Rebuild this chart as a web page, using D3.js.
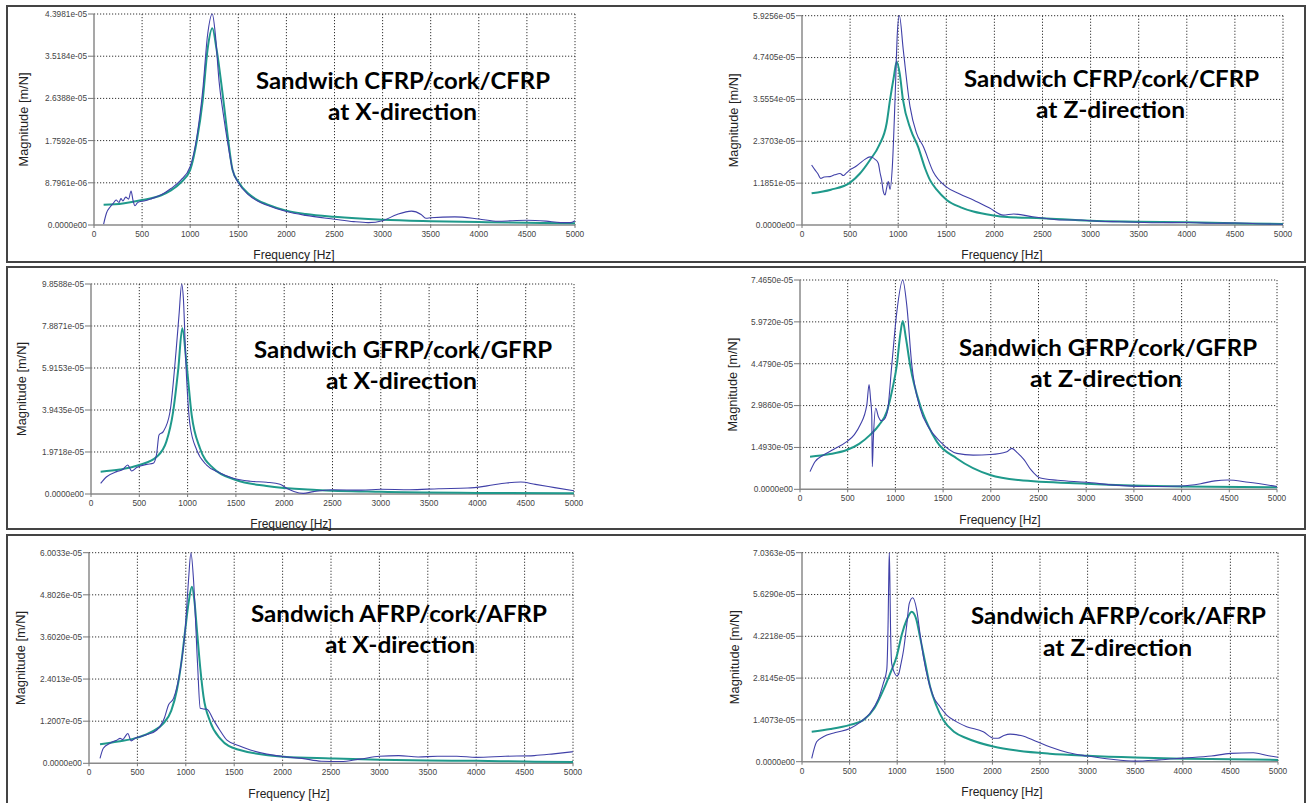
<!DOCTYPE html>
<html lang="en">
<head>
<meta charset="utf-8">
<title>FRF - sandwich cork panels</title>
<script src="https://cdn.jsdelivr.net/npm/d3@7"></script>
<style>
  body { margin: 0; background: #fff; }
  .tick-label { font-family: "Liberation Sans", Arial, sans-serif; font-size: 8.3px; fill: #444; }
  .axis-title { font-family: "Liberation Sans", Arial, sans-serif; font-size: 12px; fill: #222; }
  .axis-title.mag { font-size: 12.8px; }
  .title { font-family: Lato, "Open Sans", sans-serif; font-weight: bold; font-size: 23px; fill: #000; }
  .grid { stroke: #333; stroke-width: 1; stroke-dasharray: 1.2, 1.8; }
  .axis-line { stroke: #8a8a8a; stroke-width: 1.5; }
  .tick-mark { stroke: #777; stroke-width: 1; }
  .measured { fill: none; stroke: #4040a8; stroke-width: 1.1; }
  .fitted { fill: none; stroke: #1f998b; stroke-width: 2; }
  .row-box { fill: none; stroke: #444; stroke-width: 2; }
</style>
</head>
<body>
<div id="chart"></div>
<script>
var width = 1306, height = 803;

// x ticks (Hz), shared by all panels
var freqTicks = [0, 500, 1000, 1500, 2000, 2500, 3000, 3500, 4000, 4500, 5000];

// y tick labels as printed by the analyser
var ticksCfrpX = ["0.0000e00", "8.7961e-06", "1.7592e-05", "2.6388e-05", "3.5184e-05", "4.3981e-05"];
var ticksCfrpZ = ["0.0000e00", "1.1851e-05", "2.3703e-05", "3.5554e-05", "4.7405e-05", "5.9256e-05"];
var ticksGfrpX = ["0.0000e00", "1.9718e-05", "3.9435e-05", "5.9153e-05", "7.8871e-05", "9.8588e-05"];
var ticksGfrpZ = ["0.0000e00", "1.4930e-05", "2.9860e-05", "4.4790e-05", "5.9720e-05", "7.4650e-05"];
var ticksAfrpX = ["0.0000e00", "1.2007e-05", "2.4013e-05", "3.6020e-05", "4.8026e-05", "6.0033e-05"];
var ticksAfrpZ = ["0.0000e00", "1.4073e-05", "2.8145e-05", "4.2218e-05", "5.6290e-05", "7.0363e-05"];

// curves: [frequency Hz, magnitude in 1e-5 m/N]
var cfrpX_measured = [[100,0.02],[130,0.25],[170,0.38],[200,0.45],[230,0.52],[260,0.47],[280,0.55],[300,0.50],[330,0.58],[360,0.54],[385,0.71],[405,0.52],[426,0.40],[450,0.46],[480,0.49],[520,0.50],[560,0.52],[600,0.55],[700,0.63],[800,0.76],[900,0.93],[1000,1.22],[1070,1.85],[1130,2.8],[1180,3.95],[1230,4.398],[1260,4.0],[1300,3.0],[1345,2.3],[1395,1.65],[1440,1.15],[1500,0.88],[1600,0.64],[1700,0.50],[1800,0.41],[2000,0.28],[2200,0.20],[2500,0.12],[2700,0.07],[2850,0.05],[3000,0.09],[3150,0.22],[3300,0.29],[3400,0.22],[3450,0.14],[3500,0.15],[3750,0.17],[4000,0.125],[4200,0.077],[4350,0.09],[4500,0.10],[4700,0.08],[4850,0.05],[4950,0.05],[5000,0.09]];
var cfrpX_fitted = [[100,0.42],[300,0.45],[500,0.52],[700,0.62],[800,0.72],[900,0.88],[1000,1.15],[1070,1.77],[1130,2.6],[1180,3.65],[1230,4.10],[1275,3.65],[1345,2.6],[1395,1.77],[1440,1.15],[1500,0.90],[1600,0.66],[1700,0.52],[1800,0.43],[2000,0.30],[2200,0.23],[2500,0.17],[3000,0.11],[3500,0.08],[4000,0.06],[4500,0.045],[5000,0.035]];

var cfrpZ_measured = [[100,1.70],[135,1.56],[165,1.45],[194,1.32],[230,1.36],[291,1.37],[340,1.42],[395,1.46],[430,1.40],[460,1.47],[499,1.56],[550,1.64],[603,1.75],[650,1.85],[707,1.93],[740,1.90],[759,1.86],[793,1.75],[810,1.5],[828,1.27],[845,0.95],[863,0.85],[880,1.05],[897,1.23],[915,1.01],[939,1.65],[967,3.54],[991,5.43],[1012,5.93],[1053,4.95],[1123,3.35],[1190,2.6],[1261,2.22],[1365,1.5],[1500,1.08],[1640,0.88],[1781,0.71],[1950,0.48],[2093,0.28],[2200,0.31],[2400,0.235],[2500,0.20],[2700,0.14],[2900,0.14],[3000,0.12],[3300,0.09],[3700,0.065],[4000,0.07],[4300,0.05],[4500,0.055],[4800,0.03],[5000,0.02]];
var cfrpZ_fitted = [[100,0.90],[300,1.0],[500,1.2],[600,1.45],[707,1.84],[800,2.25],[880,2.88],[915,3.54],[955,4.2],[984,4.62],[1015,4.3],[1050,3.54],[1130,2.7],[1206,2.22],[1280,1.6],[1331,1.27],[1400,1.0],[1504,0.71],[1650,0.5],[1781,0.38],[2000,0.27],[2100,0.235],[2500,0.19],[3000,0.12],[3500,0.095],[4000,0.076],[4500,0.05],[5000,0.03]];

var gfrpX_measured = [[100,0.50],[162,0.81],[266,1.05],[330,1.15],[380,1.36],[421,1.08],[473,1.24],[577,1.39],[645,1.44],[680,1.9],[704,2.77],[748,2.93],[818,3.86],[880,6.68],[911,8.4],[939,9.86],[956,9.2],[983,6.06],[1025,3.24],[1094,2.07],[1197,1.36],[1330,1.0],[1473,0.74],[1650,0.6],[1818,0.55],[1957,0.46],[2025,0.27],[2100,0.12],[2198,0.03],[2302,0.11],[2500,0.2],[2800,0.18],[3000,0.22],[3300,0.2],[3600,0.25],[3900,0.28],[4100,0.38],[4300,0.52],[4450,0.56],[4600,0.45],[4800,0.3],[5000,0.15]];
var gfrpX_fitted = [[100,1.05],[300,1.15],[500,1.36],[680,1.75],[780,2.46],[850,3.86],[904,5.9],[945,7.78],[990,6.06],[1042,3.71],[1128,2.15],[1266,1.21],[1500,0.66],[1818,0.38],[2336,0.19],[3000,0.1],[4000,0.05],[5000,0.03]];

var gfrpZ_measured = [[105,0.63],[157,0.98],[245,1.22],[350,1.42],[490,1.70],[570,1.95],[630,2.29],[700,3.0],[724,3.74],[740,3.2],[752,2.65],[758,0.81],[769,1.82],[794,2.89],[822,2.59],[850,2.45],[874,2.47],[916,2.77],[962,4.43],[1015,6.33],[1077,7.465],[1119,6.57],[1172,4.43],[1259,2.89],[1350,2.2],[1469,1.70],[1644,1.28],[1815,1.22],[2000,1.24],[2168,1.34],[2221,1.46],[2280,1.3],[2350,1.05],[2420,0.7],[2520,0.4],[2700,0.32],[3000,0.25],[3300,0.15],[3600,0.1],[4000,0.12],[4200,0.2],[4350,0.3],[4480,0.33],[4700,0.25],[5000,0.1]];
var gfrpZ_fitted = [[105,1.16],[300,1.25],[490,1.40],[620,1.62],[735,1.94],[830,2.3],[910,2.77],[970,3.6],[1015,4.43],[1050,5.5],[1077,6.0],[1110,5.4],[1154,4.43],[1259,3.0],[1340,2.3],[1434,1.70],[1644,1.10],[1994,0.51],[2291,0.33],[3000,0.2],[4000,0.1],[5000,0.07]];

var afrpX_measured = [[114,0.14],[148,0.43],[217,0.57],[250,0.62],[287,0.66],[321,0.71],[350,0.68],[373,0.76],[401,0.85],[435,0.64],[480,0.72],[528,0.76],[600,0.82],[701,0.95],[780,1.3],[821,1.66],[873,1.85],[942,2.66],[994,3.8],[1028,5.22],[1053,6.0],[1080,5.22],[1121,2.85],[1149,1.57],[1180,1.55],[1218,1.54],[1287,1.23],[1350,0.95],[1425,0.66],[1550,0.5],[1667,0.38],[2011,0.19],[2200,0.14],[2400,0.06],[2600,0.05],[2800,0.12],[3000,0.2],[3200,0.22],[3400,0.18],[3600,0.2],[3800,0.2],[4000,0.17],[4300,0.2],[4600,0.22],[4800,0.27],[5000,0.33]];
var afrpX_fitted = [[114,0.54],[300,0.62],[510,0.74],[650,0.9],[769,1.14],[850,1.5],[908,2.09],[960,3.0],[994,3.8],[1030,4.6],[1063,5.03],[1090,4.6],[1115,3.8],[1150,2.7],[1183,1.9],[1250,1.2],[1356,0.7],[1529,0.40],[2011,0.19],[2500,0.14],[3000,0.1],[3500,0.08],[4000,0.07],[4500,0.05],[5000,0.04]];

var afrpZ_measured = [[102,0.11],[154,0.67],[224,0.84],[350,0.98],[504,1.12],[620,1.35],[714,1.63],[800,2.1],[854,2.64],[890,3.09],[905,4.8],[911,6.12],[917,7.036],[923,6.12],[930,4.5],[942,3.31],[970,3.0],[995,2.89],[1012,2.93],[1040,3.3],[1067,3.76],[1100,4.6],[1127,5.33],[1163,5.52],[1205,5.11],[1240,4.3],[1275,3.54],[1330,2.7],[1380,2.19],[1450,1.85],[1520,1.57],[1620,1.35],[1730,1.18],[1904,1.01],[2013,0.79],[2060,0.79],[2120,0.88],[2185,0.93],[2300,0.88],[2450,0.7],[2600,0.5],[2800,0.3],[3000,0.19],[3250,0.08],[3500,0.02],[3750,0.06],[4000,0.12],[4300,0.19],[4500,0.28],[4741,0.30],[4900,0.2],[5000,0.15]];
var afrpZ_fitted = [[102,1.01],[300,1.1],[504,1.24],[644,1.40],[760,1.8],[854,2.41],[930,3.0],[994,3.54],[1050,4.3],[1099,4.77],[1152,5.05],[1200,4.8],[1239,4.21],[1290,3.4],[1345,2.53],[1410,1.9],[1484,1.40],[1600,1.0],[1730,0.79],[2010,0.51],[2272,0.37],[2600,0.27],[3000,0.2],[3500,0.14],[4000,0.1],[4500,0.08],[5000,0.06]];

var titles1 = ["Sandwich CFRP/cork/CFRP", "Sandwich CFRP/cork/CFRP", "Sandwich GFRP/cork/GFRP", "Sandwich GFRP/cork/GFRP", "Sandwich AFRP/cork/AFRP", "Sandwich AFRP/cork/AFRP"];
var titles2 = ["at X-direction", "at Z-direction", "at X-direction", "at Z-direction", "at X-direction", "at Z-direction"];

// panel placement on the page
var panels = [
  { ticks: ticksCfrpX, meas: cfrpX_measured, fit: cfrpX_fitted, left: 94,  right: 575,  top: 14,    bottom: 225,   magX: 24,  t1: [256, 294, 89],  t2: [328, 149, 120] },
  { ticks: ticksCfrpZ, meas: cfrpZ_measured, fit: cfrpZ_fitted, left: 802, right: 1283, top: 15.7,  bottom: 225,   magX: 734, t1: [964, 295, 87],  t2: [1036, 149, 118] },
  { ticks: ticksGfrpX, meas: gfrpX_measured, fit: gfrpX_fitted, left: 91,  right: 574,  top: 284,   bottom: 494,   magX: 22,  t1: [254, 298, 358], t2: [326, 151, 389] },
  { ticks: ticksGfrpZ, meas: gfrpZ_measured, fit: gfrpZ_fitted, left: 800, right: 1277, top: 280,   bottom: 489.3, magX: 733, t1: [959, 298, 356], t2: [1030, 152, 387] },
  { ticks: ticksAfrpX, meas: afrpX_measured, fit: afrpX_fitted, left: 89,  right: 573,  top: 552.7, bottom: 763.3, magX: 21,  t1: [251, 296, 622], t2: [325, 150, 653] },
  { ticks: ticksAfrpZ, meas: afrpZ_measured, fit: afrpZ_fitted, left: 802, right: 1278, top: 552.7, bottom: 761.7, magX: 735, t1: [971, 295, 624], t2: [1043, 149, 656] }
];

var rows = [[6, 262], [267, 529], [535, 808]];

var svg = d3.select("#chart")
  .append("svg")
  .attr("width", width)
  .attr("height", height)
  .style("display", "block");

svg.append("g").selectAll("rect")
  .data(rows)
  .enter().append("rect")
  .attr("class", "row-box")
  .attr("x", 7)
  .attr("y", function (d) { return d[0]; })
  .attr("width", 1298)
  .attr("height", function (d) { return d[1] - d[0]; });

panels.forEach(function (p, i) {
  var yMax = parseFloat(p.ticks[p.ticks.length - 1]);
  var yVals = p.ticks.map(function (t) { return parseFloat(t); });

  var x = d3.scaleLinear().domain([0, 5000]).range([p.left, p.right]);
  var y = d3.scaleLinear().domain([0, yMax]).range([p.bottom, p.top]);

  var g = svg.append("g");

  // dotted grid
  g.selectAll(".vgrid")
    .data(freqTicks.slice(1))
    .enter().append("line")
    .attr("class", "grid")
    .attr("x1", function (d) { return x(d); })
    .attr("x2", function (d) { return x(d); })
    .attr("y1", p.top)
    .attr("y2", p.bottom);

  g.selectAll(".hgrid")
    .data(yVals.slice(1))
    .enter().append("line")
    .attr("class", "grid")
    .attr("x1", p.left)
    .attr("x2", p.right)
    .attr("y1", function (d) { return y(d); })
    .attr("y2", function (d) { return y(d); });

  // axes
  g.append("line").attr("class", "axis-line")
    .attr("x1", p.left).attr("x2", p.left).attr("y1", p.top).attr("y2", p.bottom);
  g.append("line").attr("class", "axis-line")
    .attr("x1", p.left).attr("x2", p.right).attr("y1", p.bottom).attr("y2", p.bottom);

  g.selectAll(".ytick")
    .data(yVals)
    .enter().append("line")
    .attr("class", "tick-mark")
    .attr("x1", p.left - 6).attr("x2", p.left)
    .attr("y1", function (d) { return y(d); })
    .attr("y2", function (d) { return y(d); });

  g.selectAll(".xtick")
    .data(freqTicks)
    .enter().append("line")
    .attr("class", "tick-mark")
    .attr("x1", function (d) { return x(d); })
    .attr("x2", function (d) { return x(d); })
    .attr("y1", p.bottom)
    .attr("y2", p.bottom + 3);

  g.selectAll(".ylab")
    .data(p.ticks)
    .enter().append("text")
    .attr("class", "tick-label")
    .attr("x", p.left - 7)
    .attr("y", function (d) { return y(parseFloat(d)); })
    .attr("dy", "0.35em")
    .attr("text-anchor", "end")
    .text(function (d) { return d; });

  g.selectAll(".xlab")
    .data(freqTicks)
    .enter().append("text")
    .attr("class", "tick-label")
    .attr("x", function (d) { return x(d); })
    .attr("y", p.bottom + 12)
    .attr("text-anchor", "middle")
    .text(function (d) { return d; });

  // axis titles
  g.append("text")
    .attr("class", "axis-title mag")
    .attr("transform", "translate(" + p.magX + "," + ((p.top + p.bottom) / 2) + ") rotate(-90)")
    .attr("text-anchor", "middle")
    .attr("dy", "0.35em")
    .text("Magnitude [m/N]");

  g.append("text")
    .attr("class", "axis-title")
    .attr("x", p.left + 200)
    .attr("y", p.bottom + 30)
    .attr("dy", "0.35em")
    .attr("text-anchor", "middle")
    .text("Frequency [Hz]");

  // curves
  var line = d3.line()
    .x(function (d) { return x(d[0]); })
    .y(function (d) { return y(d[1] * 1e-5); })
    .curve(d3.curveMonotoneX);

  g.append("path").attr("class", "fitted").attr("d", line(p.fit));
  g.append("path").attr("class", "measured").attr("d", line(p.meas));

  // panel titles
  g.append("text")
    .attr("class", "title")
    .attr("x", p.t1[0]).attr("y", p.t1[2])
    .attr("textLength", p.t1[1]).attr("lengthAdjust", "spacingAndGlyphs")
    .text(titles1[i]);
  g.append("text")
    .attr("class", "title")
    .attr("x", p.t2[0]).attr("y", p.t2[2])
    .attr("textLength", p.t2[1]).attr("lengthAdjust", "spacingAndGlyphs")
    .text(titles2[i]);
});
</script>
</body>
</html>
